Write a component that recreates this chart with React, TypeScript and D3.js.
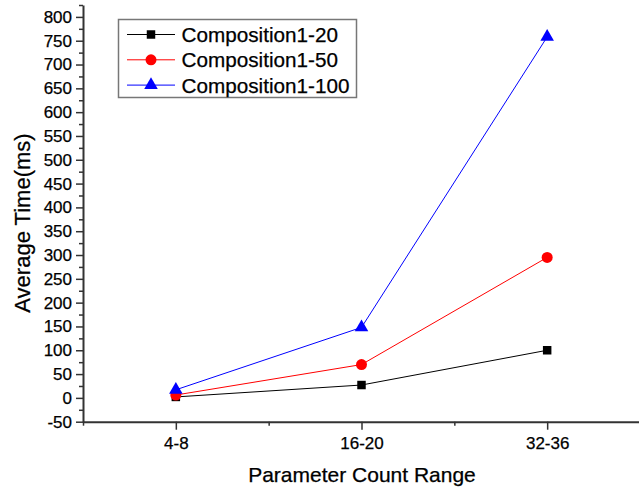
import React, { useEffect, useRef } from 'react';
import * as d3 from 'd3';

const categories = ['4-8', '16-20', '32-36'];
const seriesNames = ['Composition1-20', 'Composition1-50', 'Composition1-100'];
const comp20 = [2, 27, 100];
const comp50 = [6, 70, 295];
const comp100 = [17, 148, 758];
const yTicks = [-50, 0, 50, 100, 150, 200, 250, 300, 350, 400, 450, 500, 550, 600, 650, 700, 750, 800];

const colors = ['#000000', '#ff0000', '#0000ff'];
const symbols = [d3.symbolSquare, d3.symbolCircle, d3.symbolTriangle];
const symbolSizes = [72, 95, 80];

export default function App() {
  const ref = useRef<SVGSVGElement>(null);

  useEffect(() => {
    const svg = d3.select(ref.current);
    svg.selectAll('*').remove();
    const font = '"Liberation Sans", Arial, sans-serif';

    const x = d3.scaleLinear().domain([0.5, 3.5]).range([83, 640]);
    const y = d3.scaleLinear().domain([-50, 825]).range([421.7, 5]);

    // y axis: minor then major
    const yMinor = d3.range(-25, 826, 50);
    svg.append('g')
      .attr('transform', 'translate(83,0)')
      .call(d3.axisLeft(y).tickValues(yMinor).tickSize(4).tickFormat(() => ''))
      .call(g => g.select('.domain').remove())
      .selectAll('line').attr('stroke', '#333').attr('stroke-width', 1.5);

    const ya = svg.append('g')
      .attr('transform', 'translate(83,0)')
      .call(d3.axisLeft(y).tickValues(yTicks).tickSize(7).tickPadding(4).tickSizeOuter(0)
        .tickFormat((d) => String(d)));
    ya.select('.domain').attr('stroke', '#333').attr('stroke-width', 2);
    ya.selectAll('line').attr('stroke', '#333').attr('stroke-width', 1.5);
    ya.selectAll('text').attr('font-size', 17).attr('font-family', font).attr('fill', '#000')
      .attr('stroke', '#000').attr('stroke-width', 0.25);

    // x axis
    svg.append('g')
      .attr('transform', 'translate(0,421.7)')
      .call(d3.axisBottom(x).tickValues([0.5, 1.5, 2.5, 3.5]).tickSize(4).tickFormat(() => ''))
      .call(g => g.select('.domain').remove())
      .selectAll('line').attr('stroke', '#333').attr('stroke-width', 1.5);

    const xa = svg.append('g')
      .attr('transform', 'translate(0,421.7)')
      .call(d3.axisBottom(x).tickValues([1, 2, 3]).tickSize(8).tickPadding(7).tickSizeOuter(0)
        .tickFormat((d) => categories[(d as number) - 1]));
    xa.select('.domain').attr('stroke', '#333').attr('stroke-width', 2);
    xa.selectAll('line').attr('stroke', '#333').attr('stroke-width', 1.5);
    xa.selectAll('text').attr('font-size', 17).attr('font-family', font).attr('fill', '#000')
      .attr('stroke', '#000').attr('stroke-width', 0.25);

    // axis titles
    svg.append('text')
      .attr('x', 362).attr('y', 481.5)
      .attr('text-anchor', 'middle')
      .attr('font-size', 21).attr('font-family', font).attr('fill', '#000')
      .attr('stroke', '#000').attr('stroke-width', 0.25)
      .text('Parameter Count Range');
    svg.append('text')
      .attr('transform', 'translate(30,223) rotate(-90)')
      .attr('text-anchor', 'middle')
      .attr('font-size', 22).attr('font-family', font).attr('fill', '#000')
      .attr('stroke', '#000').attr('stroke-width', 0.25)
      .text('Average Time(ms)');

    // series
    const series = [comp20, comp50, comp100];
    const line = d3.line<number>().x((_, i) => x(i + 1)).y(d => y(d));
    series.forEach((vals, s) => {
      svg.append('path')
        .attr('d', line(vals))
        .attr('fill', 'none')
        .attr('stroke', colors[s])
        .attr('stroke-width', 1);
    });
    series.forEach((vals, s) => {
      vals.forEach((v, i) => {
        svg.append('path')
          .attr('d', d3.symbol().type(symbols[s]).size(symbolSizes[s])())
          .attr('transform', `translate(${x(i + 1)},${y(v)})`)
          .attr('fill', colors[s]);
      });
    });

    // legend
    const lg = svg.append('g');
    lg.append('rect')
      .attr('x', 118.5).attr('y', 19.5).attr('width', 238).attr('height', 78)
      .attr('fill', 'white').attr('stroke', '#777').attr('stroke-width', 1.5);
    seriesNames.forEach((name, s) => {
      const cy = 34.5 + s * 25.3;
      lg.append('line')
        .attr('x1', 127).attr('x2', 175).attr('y1', cy).attr('y2', cy)
        .attr('stroke', colors[s]).attr('stroke-width', 1);
      lg.append('path')
        .attr('d', d3.symbol().type(symbols[s]).size(symbolSizes[s])())
        .attr('transform', `translate(151,${cy})`)
        .attr('fill', colors[s]);
      lg.append('text')
        .attr('x', 181.5).attr('y', cy + 7.5)
        .attr('font-size', 20.7).attr('font-family', font).attr('fill', '#000')
        .attr('stroke', '#000').attr('stroke-width', 0.25)
        .text(name);
    });
  }, []);

  return (
    <svg ref={ref} width={639} height={487}
      style={{ position: 'absolute', left: 0, top: 0, background: 'white' }} />
  );
}
